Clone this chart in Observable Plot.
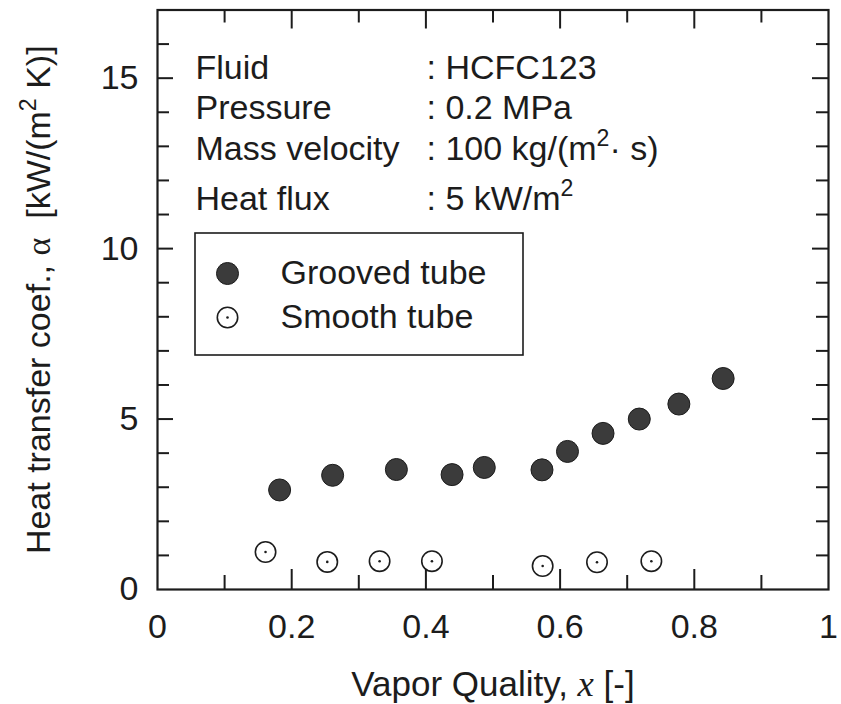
<!DOCTYPE html>
<html><head><meta charset="utf-8">
<script src="https://cdn.jsdelivr.net/npm/d3@7"></script>
<script src="https://cdn.jsdelivr.net/npm/@observablehq/plot@0.6"></script>
<style>body{margin:0;background:#fff} svg{display:block}</style>
</head><body><div id="chart"></div>
<script>
// ---- data ----
const groovedX = [0.182, 0.261, 0.356, 0.439, 0.487, 0.573, 0.611, 0.664, 0.718, 0.777, 0.843];
const groovedY = [2.92, 3.35, 3.52, 3.37, 3.58, 3.51, 4.05, 4.58, 5.00, 5.44, 6.19];
const smoothX = [0.161, 0.253, 0.331, 0.409, 0.574, 0.655, 0.736];
const smoothY = [1.10, 0.81, 0.83, 0.83, 0.69, 0.80, 0.83];
const xTicksMajor = [0, 0.2, 0.4, 0.6, 0.8, 1];
const xTickLabels = ["0", "0.2", "0.4", "0.6", "0.8", "1"];
const xTicksMinor = [0.1, 0.3, 0.5, 0.7, 0.9];
const yTicksMajor = [0, 5, 10, 15];
const yTickLabels = ["0", "5", "10", "15"];
const yTicksMinor = [1, 2, 3, 4, 6, 7, 8, 9, 11, 12, 13, 14, 16];
const infoLabels = ["Fluid", "Pressure", "Mass velocity", "Heat flux"];
const infoValues = [": HCFC123", ": 0.2 MPa", ": 100 kg/(m²· s)", ": 5 kW/m²"];
const seriesNames = ["Grooved tube", "Smooth tube"];
const xTitle = "Vapor Quality, x [-]";
const yTitle = "Heat transfer coef., α  [kW/(m² K)]";

const grooved = groovedX.map((x, i) => ({x, y: groovedY[i]}));
const smooth = smoothX.map((x, i) => ({x, y: smoothY[i]}));

// ---- layout ----
const W = 841, H = 704, mL = 157, mR = 13, mT = 9.5, mB = 115;
const plotW = W - mL - mR, plotH = H - mT - mB;
const ink = "#1c1c1c";
const dotFill = "#3b3b3b";
const R = 11;
const rowDy = [58.5, 98.5, 139.5, 189.5];
const FS = 34;

const legendBox = (index, scales, values, dim) => {
  return d3.create("svg:rect")
    .attr("x", dim.marginLeft + 38).attr("y", dim.marginTop + 223.5)
    .attr("width", 328).attr("height", 122)
    .attr("fill", "white").attr("stroke", ink).attr("stroke-width", 1.6)
    .node();
};

const marks = [
  // ticks (inward, all four sides)
  Plot.ruleX(xTicksMajor.slice(1, -1), {x: d => d, insetTop: plotH - 20, stroke: ink, strokeWidth: 2}),
  Plot.ruleX(xTicksMinor, {x: d => d, insetTop: plotH - 14, stroke: ink, strokeWidth: 2}),
  Plot.ruleX(xTicksMajor.slice(1, -1), {x: d => d, insetBottom: plotH - 19, stroke: ink, strokeWidth: 2}),
  Plot.ruleX(xTicksMinor, {x: d => d, insetBottom: plotH - 13, stroke: ink, strokeWidth: 2}),
  Plot.ruleY(yTicksMajor.slice(1), {y: d => d, insetRight: plotW - 16, stroke: ink, strokeWidth: 2}),
  Plot.ruleY(yTicksMinor, {y: d => d, insetRight: plotW - 12, stroke: ink, strokeWidth: 2}),
  Plot.ruleY(yTicksMajor.slice(1), {y: d => d, insetLeft: plotW - 16, stroke: ink, strokeWidth: 2}),
  Plot.ruleY(yTicksMinor, {y: d => d, insetLeft: plotW - 12, stroke: ink, strokeWidth: 2}),
  Plot.frame({stroke: ink, strokeWidth: 2.2}),
  // axis labels
  Plot.axisX({ticks: xTicksMajor, tickFormat: (d) => xTickLabels[xTicksMajor.indexOf(d)], tickSize: 0, tickPadding: 24, fontSize: 34, label: null, fill: ink}),
  Plot.axisY({ticks: yTicksMajor, tickFormat: (d) => yTickLabels[yTicksMajor.indexOf(d)], tickSize: 0, tickPadding: 19, fontSize: 34, label: null, fill: ink}),
  // axis titles
  Plot.text([xTitle], {text: d => d, frameAnchor: "bottom", dy: 95, fontSize: 35, lineAnchor: "middle", textAnchor: "middle", fill: ink}),
  Plot.text([yTitle], {text: d => d, frameAnchor: "left", dx: -118, rotate: -90, fontSize: 34, lineAnchor: "middle", textAnchor: "middle", fill: ink}),
  // info block
  ...infoLabels.map((t, i) => Plot.text([t], {text: d => d, frameAnchor: "top-left", dx: 38, dy: rowDy[i], fontSize: FS, textAnchor: "start", lineAnchor: "middle", fill: ink})),
  ...infoValues.map((t, i) => Plot.text([t], {text: d => d, frameAnchor: "top-left", dx: 269, dy: rowDy[i], fontSize: FS, textAnchor: "start", lineAnchor: "middle", fill: ink})),
  // legend
  legendBox,
  Plot.dot([seriesNames[0]], {frameAnchor: "top-left", dx: 70, dy: 263.5, r: R, fill: dotFill, stroke: ink, strokeWidth: 1}),
  Plot.dot([seriesNames[1]], {frameAnchor: "top-left", dx: 70, dy: 307.5, r: R - 0.8, fill: "white", stroke: ink, strokeWidth: 1.6}),
  Plot.dot([seriesNames[1]], {frameAnchor: "top-left", dx: 70, dy: 307.5, r: 1.3, fill: ink}),
  Plot.text([seriesNames[0]], {text: d => d, frameAnchor: "top-left", dx: 123, dy: 263, fontSize: FS, textAnchor: "start", lineAnchor: "middle", fill: ink}),
  Plot.text([seriesNames[1]], {text: d => d, frameAnchor: "top-left", dx: 123, dy: 307.5, fontSize: FS, textAnchor: "start", lineAnchor: "middle", fill: ink}),
  // data
  Plot.dot(grooved, {x: "x", y: "y", r: R, fill: dotFill, stroke: ink, strokeWidth: 1}),
  Plot.dot(smooth, {x: "x", y: "y", r: R - 0.8, fill: "white", stroke: ink, strokeWidth: 1.6}),
  Plot.dot(smooth, {x: "x", y: "y", r: 1.3, fill: ink})
];

const chart = Plot.plot({
  width: W, height: H,
  marginLeft: mL, marginRight: mR, marginTop: mT, marginBottom: mB,
  x: {domain: [0, 1]},
  y: {domain: [0, 17]},
  style: {fontFamily: "'Liberation Sans', Arial, sans-serif", color: ink, background: "white"},
  marks
});

// rich text: italic x, serif alpha, superscript 2
function richify(el, parts) {
  el.textContent = "";
  el.setAttribute("style", (el.getAttribute("style") || "") + ";white-space:pre");
  for (const p of parts) {
    const ts = document.createElementNS("http://www.w3.org/2000/svg", "tspan");
    ts.textContent = p.t;
    if (p.italic) ts.setAttribute("font-style", "italic");
    if (p.serif) ts.setAttribute("font-family", "'Liberation Serif', serif");
    if (p.size) ts.setAttribute("font-size", p.size);
    if (p.dy) ts.setAttribute("dy", p.dy);
    el.appendChild(ts);
  }
}
chart.querySelectorAll("text").forEach(t => {
  const s = t.textContent;
  if (s === xTitle) {
    richify(t, [{t: "Vapor Quality, "}, {t: "x", italic: true, serif: true, size: "1.05em"}, {t: " [-]"}]);
  } else if (s === yTitle) {
    richify(t, [{t: "Heat transfer coef., "}, {t: "α", serif: true}, {t: "  [kW/(m"}, {t: "2", size: "0.68em", dy: "-14px"}, {t: " K)]", dy: "14px"}]);
  } else if (s.includes("²")) {
    const [a, b] = s.split("²");
    richify(t, [{t: a}, {t: "2", size: "0.68em", dy: "-14px"}, {t: b, dy: "14px"}]);
  }
});

document.getElementById("chart").appendChild(chart);
</script>
</body></html>
